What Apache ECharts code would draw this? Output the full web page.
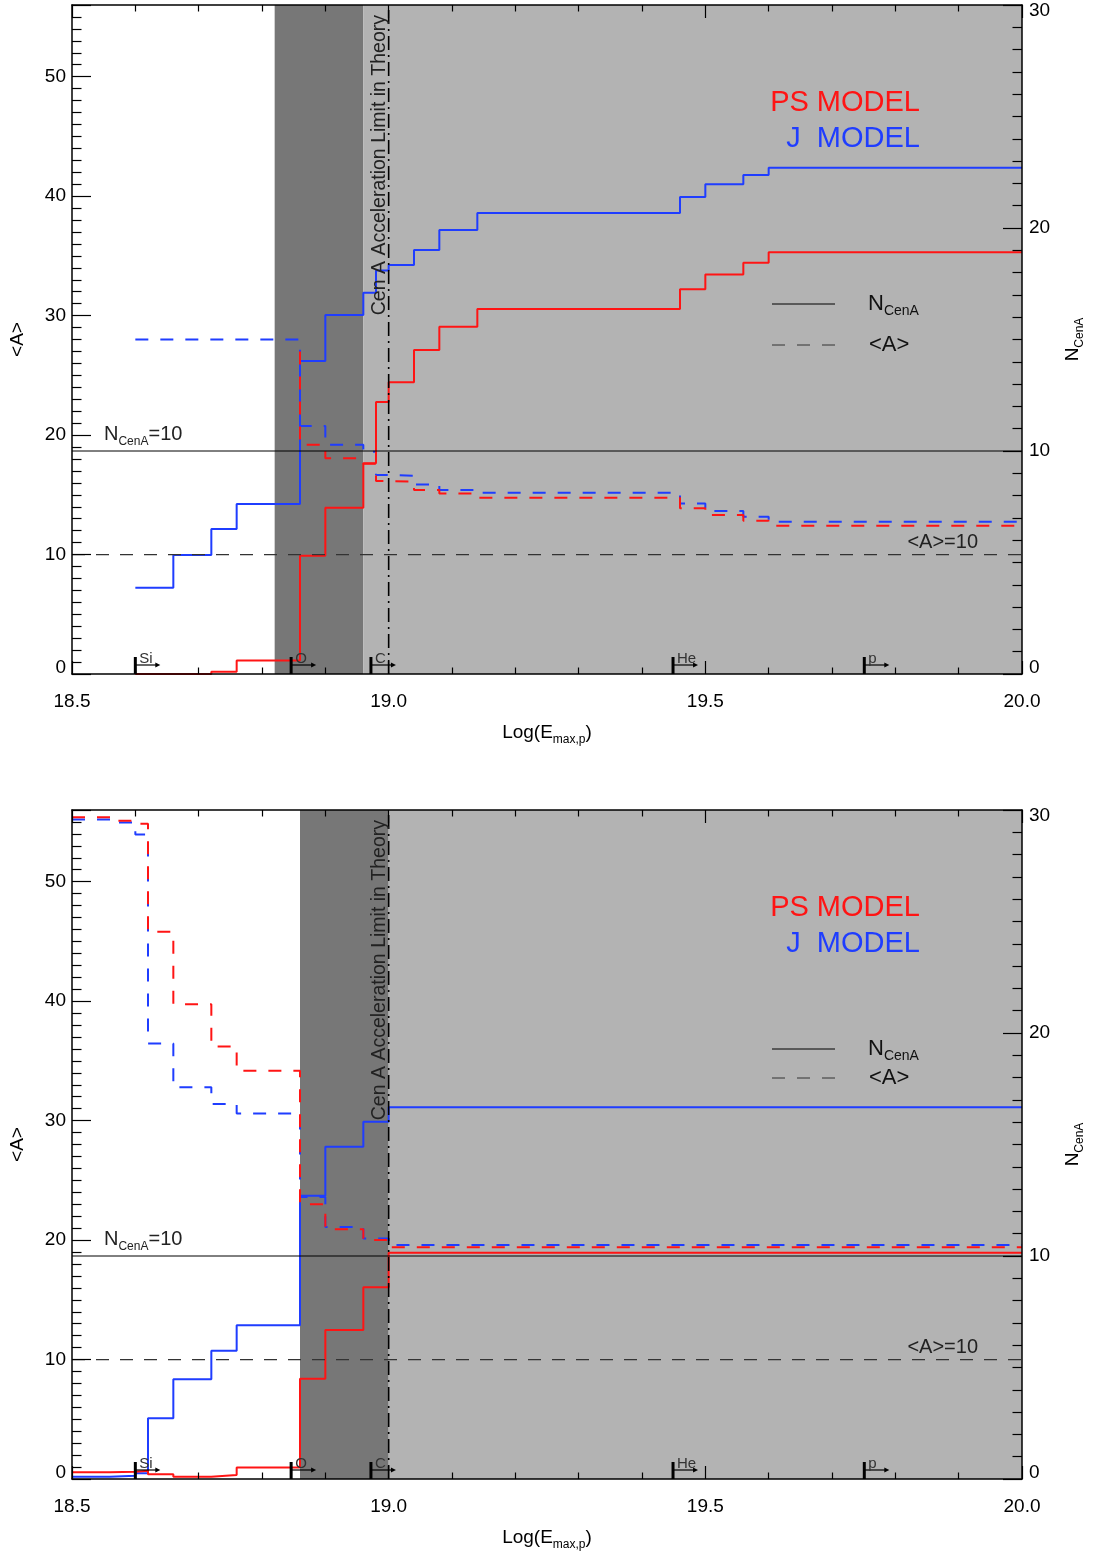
<!DOCTYPE html>
<html>
<head>
<meta charset="utf-8">
<title>Cen A - N and mean A vs Log(Emax,p)</title>
<script src="https://cdn.jsdelivr.net/npm/echarts@6/dist/echarts.min.js"></script>
<style>html,body{margin:0;padding:0;background:#fff;}</style>
</head>
<body>
<div id="main" style="width:1094px;height:1556px;"></div>
<script type="text/javascript">

var FONT = '"Liberation Sans", Arial, Helvetica, sans-serif';
var BLUE = '#1f3dff', RED = '#ff1414';
var DARK = '#777777', LIGHT = '#b3b3b3';

// axis ranges and reference levels
var xMin = 18.5, xMax = 20.0, aMax = 56, nMax = 30;
var refA = 10, refN = 10, limitX = 19.0;

// ---- upper panel ----
var edgesTop = [18.60, 18.66, 18.72, 18.76, 18.86, 18.90, 18.96, 18.98, 19.00,
                19.04, 19.08, 19.14, 19.46, 19.50, 19.56, 19.60, 20.00];
var jNTop  = [3.87, 5.34, 6.50, 7.62, 14.04, 16.10, 17.10, 18.09, 18.34,
              19.01, 19.91, 20.67, 21.39, 21.96, 22.38, 22.70];
var psNTop = [0.0, 0.0, 0.1, 0.6, 5.30, 7.46, 9.45, 12.20, 13.08,
              14.53, 15.57, 16.37, 17.25, 17.92, 18.44, 18.91];
var jATop  = [28.0, 28.0, 28.0, 28.0, 20.75, 19.19, 18.6, 16.65, 16.6,
              15.87, 15.4, 15.17, 14.28, 13.64, 13.16, 12.75];
var psATopStart = 27.0;      // red <A> starts at 18.86
var psATop = [19.19, 18.05, 17.6, 16.15, 16.1, 15.4, 15.1, 14.76, 13.87, 13.3, 12.83, 12.41];
var bandsTop = [[18.82, 18.96, 1], [18.96, 20.00, 0]];

// ---- lower panel ----
var edgesBot = [18.50, 18.56, 18.60, 18.62, 18.66, 18.72, 18.76, 18.86, 18.90, 18.96, 19.00, 20.00];
var jNBot  = [0.10, 0.15, 0.26, 2.72, 4.47, 5.75, 6.90, 12.70, 14.90, 16.02, 16.67];
var psNBot = [0.30, 0.33, 0.37, 0.21, 0.10, 0.18, 0.52, 4.50, 6.68, 8.60, 10.15];
var jABot  = [55.2, 54.95, 53.95, 36.46, 32.8, 31.4, 30.6, 23.6, 21.1, 20.14, 19.58];
var psABot = [55.4, 55.1, 54.85, 45.8, 39.75, 36.2, 34.17, 23.0, 20.9, 20.0, 19.39];
var bandsBot = [[18.86, 19.00, 1], [19.00, 20.00, 0]];

// element thresholds
var elemX = [18.600, 18.846, 18.972, 19.449, 19.751];
var elemLabels = ['Si', 'O', 'C', 'He', 'p'];

function stepData(edges, vals) {
    var d = [];
    for (var i = 0; i < vals.length; i++) d.push([edges[i], vals[i]]);
    d.push([edges[edges.length - 1], vals[vals.length - 1]]);
    return d;
}

var panels = [
    { top: 5, jN: stepData(edgesTop, jNTop), psN: stepData(edgesTop, psNTop),
      jA: stepData(edgesTop, jATop),
      psA: [[edgesTop[4], psATopStart]].concat(stepData(edgesTop.slice(4), psATop)),
      bands: bandsTop, legN: 299, legA: 340 },
    { top: 810, jN: stepData(edgesBot, jNBot), psN: stepData(edgesBot, psNBot),
      jA: stepData(edgesBot, jABot), psA: stepData(edgesBot, psABot),
      bands: bandsBot, legN: 239, legA: 268 }
];

function subRich(size, col) {
    return {
        n: { fontSize: size, lineHeight: size + 7, fontFamily: FONT, color: col, fill: col },
        s: { fontSize: Math.round(size * 0.62), lineHeight: Math.round(size * 0.62),
             verticalAlign: 'bottom', fontFamily: FONT, color: col, fill: col }
    };
}

var grids = [], xAxes = [], yAxes = [], series = [];
var tickStyle = { color: '#000', width: 1.2 };

panels.forEach(function (p, k) {
    grids.push({ left: 72, top: p.top, width: 955, height: 669 });
    ['bottom', 'top'].forEach(function (pos) {
        xAxes.push({
            gridIndex: k, type: 'value', min: xMin, max: xMax, interval: 0.5, position: pos, z: 10,
            axisLine: { show: true, onZero: false, lineStyle: { color: '#000', width: 1.5 } },
            axisTick: { show: true, inside: true, length: 13, lineStyle: tickStyle },
            minorTick: { show: true, splitNumber: 5, length: 6.5, lineStyle: tickStyle },
            splitLine: { show: false },
            axisLabel: { show: pos === 'bottom', margin: 18, fontSize: 19, color: '#000', fontFamily: FONT,
                         formatter: function (v) { return v.toFixed(1); } },
            name: pos === 'bottom' ? '{m|Log(E}{s|max,p}{m|)}' : '',
            nameLocation: 'middle', nameGap: 46,
            nameTextStyle: { rich: {
                m: { fontSize: 19, lineHeight: 26, fontFamily: FONT, color: '#000' },
                s: { fontSize: 12, lineHeight: 12, verticalAlign: 'bottom', fontFamily: FONT, color: '#000' } } }
        });
    });
    yAxes.push({
        gridIndex: k, type: 'value', min: 0, max: aMax, interval: 10, position: 'left', z: 10,
        axisLine: { show: true, onZero: false, lineStyle: { color: '#000', width: 1.5 } },
        axisTick: { show: true, inside: true, length: 19, lineStyle: tickStyle },
        minorTick: { show: true, splitNumber: 10, length: 9.5, lineStyle: tickStyle },
        splitLine: { show: false },
        axisLabel: { margin: 6, fontSize: 19, color: '#000', fontFamily: FONT, lineHeight: 12,
                     verticalAlignMinLabel: 'bottom',
                     formatter: function (v) { return v % 10 === 0 ? String(v) : ''; } },
        name: '<A>', nameLocation: 'middle', nameRotate: 90, nameGap: 45,
        nameTextStyle: { fontSize: 19, color: '#000', fontFamily: FONT }
    });
    yAxes.push({
        gridIndex: k, type: 'value', min: 0, max: nMax, interval: 10, position: 'right', z: 10,
        axisLine: { show: true, onZero: false, lineStyle: { color: '#000', width: 1.5 } },
        axisTick: { show: true, inside: true, length: 19, lineStyle: tickStyle },
        minorTick: { show: true, splitNumber: 10, length: 9.5, lineStyle: tickStyle },
        splitLine: { show: false },
        axisLabel: { margin: 7, fontSize: 19, color: '#000', fontFamily: FONT, lineHeight: 12,
                     verticalAlignMinLabel: 'bottom', verticalAlignMaxLabel: 'top' },
        name: '{n|N}{s|CenA}', nameLocation: 'middle', nameRotate: 90, nameGap: 38,
        nameTextStyle: { rich: subRich(19, '#000') }
    });

    var xa = 2 * k, ya = 2 * k, yn = 2 * k + 1;

    series.push({
        type: 'custom', xAxisIndex: xa, yAxisIndex: ya, z: 1, silent: true,
        data: p.bands,
        renderItem: function (params, api) {
            var cs = params.coordSys;
            var p0 = api.coord([api.value(0), 0]);
            var p1 = api.coord([api.value(1), 0]);
            return { type: 'rect', shape: { x: p0[0], y: cs.y, width: p1[0] - p0[0], height: cs.height },
                     style: { fill: api.value(2) === 1 ? DARK : LIGHT } };
        }
    });

    function stepLine(data, yi, color, dashed) {
        return {
            type: 'line', xAxisIndex: xa, yAxisIndex: yi, data: data, step: 'end',
            symbol: 'none', z: 3, silent: true,
            lineStyle: { color: color, width: 2, type: dashed ? [13, 12] : 'solid' }
        };
    }
    series.push(stepLine(p.jN, yn, BLUE, false));
    series.push(stepLine(p.jA, ya, BLUE, true));
    series.push(stepLine(p.psN, yn, RED, false));
    series.push(stepLine(p.psA, ya, RED, true));

    series.push({ type: 'line', xAxisIndex: xa, yAxisIndex: yn, symbol: 'none', z: 4, silent: true,
        data: [[xMin, refN], [xMax, refN]], lineStyle: { color: '#000', width: 1 } });
    series.push({ type: 'line', xAxisIndex: xa, yAxisIndex: ya, symbol: 'none', z: 4, silent: true,
        data: [[xMin, refA], [xMax, refA]], lineStyle: { color: '#333', width: 1.2, type: [13, 11] } });
    series.push({ type: 'line', xAxisIndex: xa, yAxisIndex: ya, symbol: 'none', z: 4, silent: true,
        data: [[limitX, 0], [limitX, aMax]], lineStyle: { color: '#000', width: 1.6, type: [14, 5, 2, 5] } });

    series.push({
        type: 'custom', xAxisIndex: xa, yAxisIndex: yn, z: 5, silent: true, clip: false,
        data: elemX.map(function (v) { return [v]; }),
        renderItem: function (params, api) {
            var b = api.coord([api.value(0), 0]);
            var x = b[0], y = b[1];
            return { type: 'group', children: [
                { type: 'rect', shape: { x: x - 1.5, y: y - 17, width: 3, height: 17 }, style: { fill: '#000' } },
                { type: 'line', shape: { x1: x, y1: y - 9, x2: x + 22, y2: y - 9 }, style: { stroke: '#000', lineWidth: 1.2 } },
                { type: 'polygon', shape: { points: [[x + 25, y - 9], [x + 20, y - 11.5], [x + 20, y - 6.5]] }, style: { fill: '#000' } },
                { type: 'text', x: x + 4, y: y - 8, style: { text: elemLabels[params.dataIndex], fontSize: 15,
                    fontFamily: FONT, fill: '#333', align: 'left', verticalAlign: 'bottom' } }
            ] };
        }
    });
});

var chart = echarts.init(document.getElementById('main'));
chart.setOption({
    animation: false,
    backgroundColor: '#fff',
    grid: grids, xAxis: xAxes, yAxis: yAxes, series: series
});

// annotations and legends placed from the axes
var gfx = [];
panels.forEach(function (p, k) {
    var xa = 2 * k, ya = 2 * k, yn = 2 * k + 1;
    var gl = 72, gt = p.top;
    var pN = chart.convertToPixel({ xAxisIndex: xa, yAxisIndex: yn }, [xMin, refN]);
    var pA = chart.convertToPixel({ xAxisIndex: xa, yAxisIndex: ya }, [xMax, refA]);
    var pL = chart.convertToPixel({ xAxisIndex: xa, yAxisIndex: ya }, [limitX, aMax]);

    gfx.push({ type: 'text', x: pN[0] + 32, y: pN[1] - 3, z: 20, silent: true,
        style: { text: '{n|N}{s|CenA}{n|=10}', rich: subRich(20, '#222'), align: 'left', verticalAlign: 'bottom' } });
    gfx.push({ type: 'text', x: pA[0] - 44, y: pA[1] - 2, z: 20, silent: true,
        style: { text: '<A>=10', fontSize: 20, fontFamily: FONT, fill: '#222', align: 'right', verticalAlign: 'bottom' } });
    gfx.push({ type: 'text', x: pL[0] + 1, y: pL[1] + 10, rotation: Math.PI / 2, z: 20, silent: true,
        style: { text: 'Cen A Acceleration Limit in Theory', fontSize: 19.5, fontFamily: FONT, fill: '#222',
                 align: 'right', verticalAlign: 'bottom' } });

    gfx.push({ type: 'text', x: gl + 848, y: gt + 98, z: 20, silent: true,
        style: { text: 'PS MODEL', fontSize: 29, fontFamily: FONT, fill: RED, align: 'right', verticalAlign: 'middle' } });
    gfx.push({ type: 'text', x: gl + 848, y: gt + 134, z: 20, silent: true,
        style: { text: 'J  MODEL', fontSize: 29, fontFamily: FONT, fill: BLUE, align: 'right', verticalAlign: 'middle' } });

    gfx.push({ type: 'line', z: 20, silent: true, shape: { x1: gl + 700, y1: gt + p.legN, x2: gl + 763, y2: gt + p.legN },
        style: { stroke: '#000', lineWidth: 1 } });
    gfx.push({ type: 'text', x: gl + 796, y: gt + p.legN, z: 20, silent: true,
        style: { text: '{n|N}{s|CenA}', rich: subRich(22, '#111'), align: 'left', verticalAlign: 'middle' } });
    gfx.push({ type: 'line', z: 20, silent: true, shape: { x1: gl + 700, y1: gt + p.legA, x2: gl + 763, y2: gt + p.legA },
        style: { stroke: '#333', lineWidth: 1, lineDash: [13, 12] } });
    gfx.push({ type: 'text', x: gl + 797, y: gt + p.legA, z: 20, silent: true,
        style: { text: '<A>', fontSize: 22, fontFamily: FONT, fill: '#111', align: 'left', verticalAlign: 'middle' } });
});
chart.setOption({ graphic: gfx });
</script>
</body>
</html>
